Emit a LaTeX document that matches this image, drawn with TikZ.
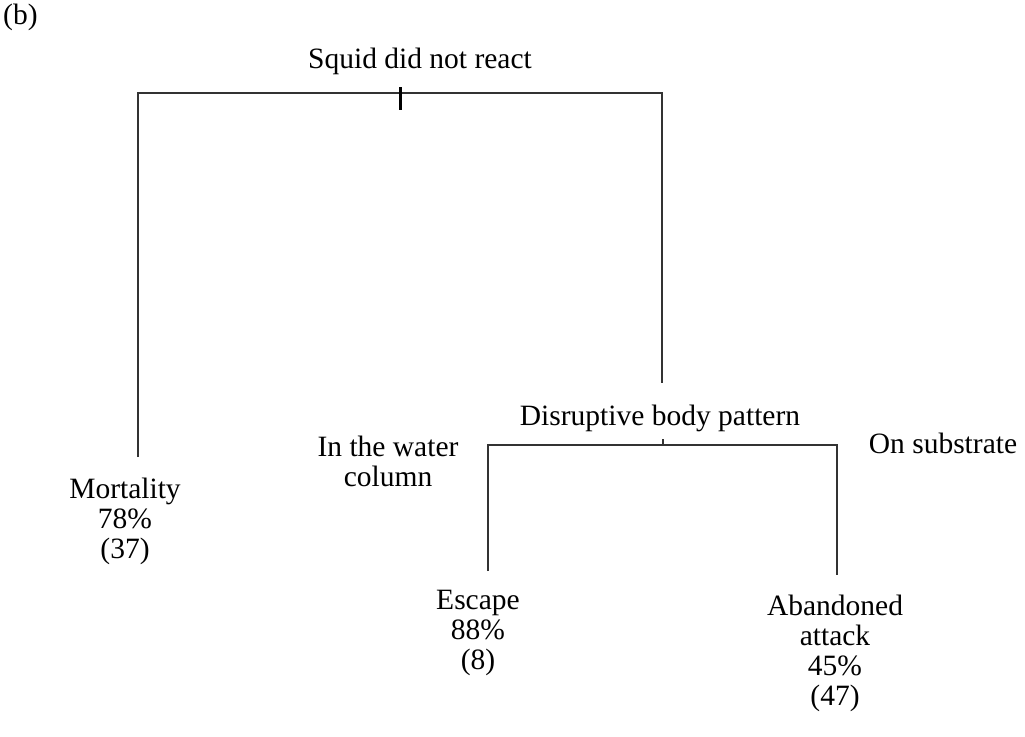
\documentclass[tikz,border=0pt]{standalone}
\usepackage{fontspec}
\setmainfont{Liberation Serif}
\begin{document}
\begin{tikzpicture}[x=1pt,y=-1pt,
  lbl/.style={inner sep=0pt, align=center, font=\fontsize{29.5}{30}\selectfont},
  branch/.style={line width=1.4pt, draw=black!80},
  ticky/.style={line width=3pt, draw=black}]
\useasboundingbox (0,0) rectangle (1025,736);
\node[lbl, anchor=north west] (b) at (3,4) {(b)};
\node[lbl] (squid) at (420,61) {Squid did not react};
\node[lbl] (mort) at (125,521) {Mortality\\78\%\\(37)};
\node[lbl] (disr) at (660,418) {Disruptive body pattern};
\node[lbl] (water) at (388,461) {In the water\\column};
\node[lbl] (subs) at (943,443) {On substrate};
\node[lbl] (esc) at (478,633) {Escape\\88\%\\(8)};
\node[lbl] (aband) at (835,653) {Abandoned\\attack\\45\%\\(47)};
\coordinate (tl) at (138,93);
\coordinate (tr) at (662,93);
\coordinate (mtop) at (138,457);
\coordinate (dtop) at (662,383);
\coordinate (tk1) at (400,87);
\coordinate (tk2) at (400,110);
\coordinate (bl) at (488,445);
\coordinate (br) at (837,445);
\coordinate (bm) at (663,445);
\coordinate (bmt) at (663,439);
\coordinate (etop) at (488,571);
\coordinate (atop) at (837,575);
\draw[branch] (mtop) -- (tl) -- (tr) -- (dtop);
\draw[ticky] (tk1) -- (tk2);
\draw[branch] (etop) -- (bl) -- (br) -- (atop);
\draw[branch] (bm) -- (bmt);
\end{tikzpicture}
\end{document}
